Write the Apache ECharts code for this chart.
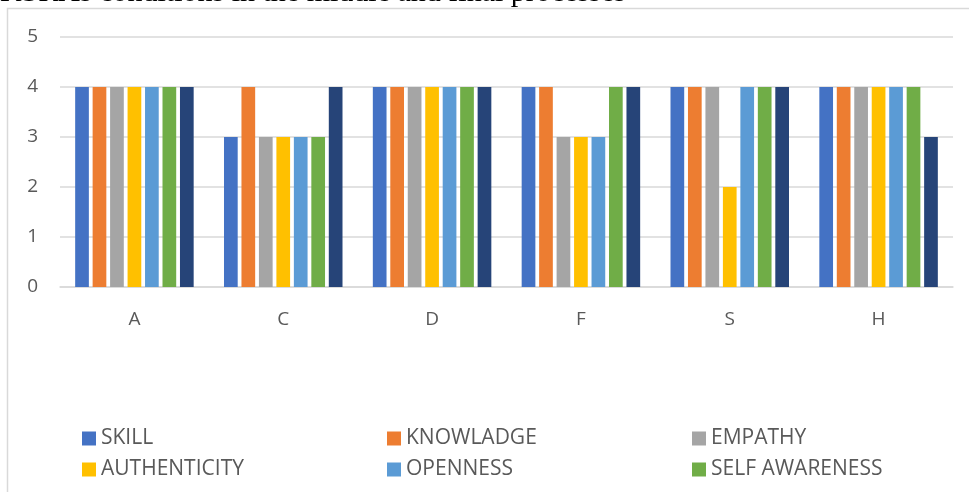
<!DOCTYPE html>
<html>
<head>
<meta charset="utf-8">
<script src="https://cdn.jsdelivr.net/npm/echarts@6/dist/echarts.min.js"></script>
<style>
  html, body { margin: 0; padding: 0; background: #fff; }
  #chart { width: 969px; height: 492px; }
</style>
</head>
<body>
<div id="chart"></div>
<script>
// categories along the x axis
var categories = ['A', 'C', 'D', 'F', 'S', 'H'];
var yTicks = [0, 1, 2, 3, 4, 5];

// one list per series (7th series has no visible legend entry)
var seriesNames = ['SKILL', 'KNOWLADGE', 'EMPATHY', 'AUTHENTICITY', 'OPENNESS', 'SELF AWARENESS', 'Series 7'];
var skill        = [4, 3, 4, 4, 4, 4];
var knowladge    = [4, 4, 4, 4, 4, 4];
var empathy      = [4, 3, 4, 3, 4, 4];
var authenticity = [4, 3, 4, 3, 2, 4];
var openness     = [4, 3, 4, 3, 4, 4];
var selfAware    = [4, 3, 4, 4, 4, 4];
var series7      = [4, 4, 4, 4, 4, 3];
var values = [skill, knowladge, empathy, authenticity, openness, selfAware, series7];

var colors = ['#4472C4', '#ED7D31', '#A5A5A5', '#FFC000', '#5B9BD5', '#70AD47', '#264478'];
var txt = '#595959';
var font = 'Open Sans';

function getSeries() {
    var out = [];
    for (var i = 0; i < values.length; i++) {
        out.push({
            name: seriesNames[i],
            type: 'bar',
            data: values[i],
            barWidth: 13.7,
            barGap: '27.5%',
            itemStyle: { color: colors[i] },
            animation: false
        });
    }
    return out;
}

function legendCol(names, left) {
    return {
        orient: 'vertical',
        left: left,
        top: 423,
        itemWidth: 14,
        itemHeight: 14,
        itemGap: 10,
        icon: 'rect',
        data: names,
        textStyle: { color: txt, fontSize: 21, fontFamily: font }
    };
}

var myChart = echarts.init(document.getElementById('chart'));
var option = {
    backgroundColor: '#fff',
    animation: false,
    grid: { left: 60, right: 16, top: 37, bottom: 205 },
    graphic: [
        {   // chart frame, cut off at right and bottom
            type: 'rect',
            shape: { x: 7.5, y: 8.5, width: 1200, height: 1200 },
            style: { fill: null, stroke: '#d9d9d9', lineWidth: 1.5 },
            silent: true
        },
        {   // caption above the chart, mostly cut off
            type: 'text',
            style: {
                x: 0,
                y: -6.5,
                verticalAlign: 'middle',
                text: 'KSRAs conditions in the middle and final processes',
                fontFamily: 'Liberation Serif',
                fontSize: 30,
                fill: '#000'
            },
            silent: true
        }
    ],
    legend: [
        legendCol(['SKILL', 'AUTHENTICITY'], 77),
        legendCol(['KNOWLADGE', 'OPENNESS'], 382),
        legendCol(['EMPATHY', 'SELF AWARENESS'], 687)
    ],
    xAxis: [{
        type: 'category',
        data: categories,
        axisLine: { lineStyle: { color: '#d9d9d9', width: 1.5 } },
        axisTick: { show: false },
        axisLabel: { color: txt, fontSize: 19, fontFamily: font, margin: 23 }
    }],
    yAxis: [{
        type: 'value',
        min: yTicks[0],
        max: yTicks[yTicks.length - 1],
        interval: 1,
        axisLine: { show: false },
        axisTick: { show: false },
        splitLine: { lineStyle: { color: '#d9d9d9', width: 1.5 } },
        axisLabel: { color: txt, fontSize: 19, fontFamily: font, margin: 22 }
    }],
    series: getSeries()
};
myChart.setOption(option);
</script>
</body>
</html>
